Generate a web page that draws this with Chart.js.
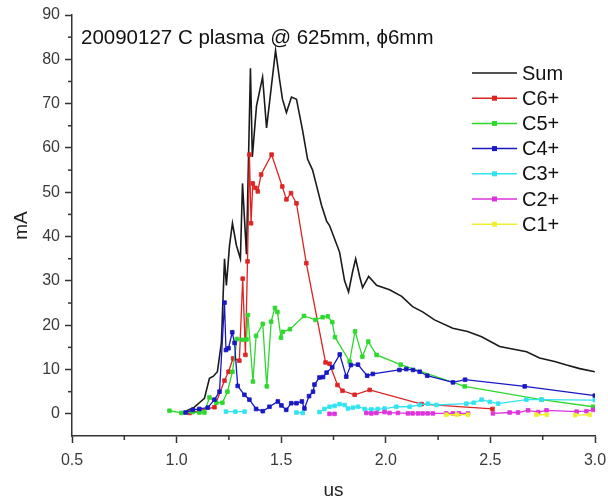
<!DOCTYPE html>
<html>
<head>
<meta charset="utf-8">
<script src="https://cdn.jsdelivr.net/npm/chart.js@4.4.0/dist/chart.umd.min.js"></script>
<style>
  html, body { margin: 0; padding: 0; background: #fff; }
  #wrap { width: 608px; height: 500px; }
</style>
</head>
<body>
<div id="wrap"><canvas id="plasma"></canvas></div>
<script>
// axis ticks
const xTicks = [0.5, 1.0, 1.5, 2.0, 2.5, 3.0];
const xMinor = [0.75, 1.25, 1.75, 2.25, 2.75];
const yTicks = [0, 10, 20, 30, 40, 50, 60, 70, 80, 90];
const yMinor = [5, 15, 25, 35, 45, 55, 65, 75, 85];

const seriesNames = ['Sum', 'C6+', 'C5+', 'C4+', 'C3+', 'C2+', 'C1+'];

// values (x in us, y in mA)
const sumX = [1.037,1.052,1.085,1.109,1.133,1.157,1.176,1.195,1.214,1.229,1.238,1.253,1.267,1.286,1.305,1.315,1.334,1.353,1.362,1.382,1.411,1.430,1.473,1.492,1.506,1.525,1.549,1.573,1.602,1.626,1.650,1.669,1.693,1.717,1.731,1.755,1.779,1.803,1.822,1.841,1.856,1.875,1.889,1.918,1.956,2.018,2.076,2.128,2.176,2.233,2.320,2.391,2.458,2.544,2.673,2.735,2.807,2.864,2.927,2.999];
const sumY = [0,0.8,1.5,2.5,3.5,8,8.5,9.5,16,35,29,38,43,38,35,52,36,78,58,69.5,76,64.5,82,75.5,71,68,71.5,71,64,57.5,55,51.5,47,43.5,42.5,39.5,36.5,30,27.5,32,35,31,28.5,31,29,28,26.5,24.2,23,21.2,19.3,18.6,17.4,15.2,14,12.6,11.8,11,10.2,9.5];

const c6X = [1.062,1.181,1.229,1.248,1.270,1.300,1.316,1.329,1.339,1.348,1.356,1.364,1.377,1.388,1.404,1.454,1.505,1.525,1.547,1.573,1.620,1.712,1.731,1.769,1.793,1.851,1.923,2.171,2.510];
const c6Y = [0.2,1.5,7.5,9.5,12.5,12,30.5,13.3,34.4,58.5,43,52,51,50.2,54,58.5,51.3,48.4,49.8,47.5,34,11.6,11.3,6.5,5.2,4.3,5.4,2.2,1.1];

const c5X = [0.966,1.023,1.076,1.109,1.133,1.157,1.190,1.219,1.243,1.267,1.289,1.315,1.334,1.341,1.365,1.380,1.412,1.431,1.452,1.470,1.482,1.499,1.508,1.542,1.609,1.664,1.698,1.723,1.744,1.757,1.827,1.853,1.888,1.916,1.956,2.071,2.377,2.744,2.991];
const c5Y = [0.7,0.2,0.4,0.3,0.3,3.7,2.5,2.5,5,9.5,16.9,16.7,16.8,22.3,7.3,17.6,20.3,6.2,20.8,23.9,23,17.2,18.5,19.1,22.1,21.2,21.8,22,20.7,17.3,11.8,18.6,12.9,16.3,13.3,11.1,6.2,3.2,1.6];

const c4X = [1.043,1.077,1.109,1.149,1.181,1.205,1.229,1.236,1.248,1.266,1.277,1.292,1.324,1.348,1.380,1.412,1.444,1.484,1.501,1.524,1.548,1.573,1.599,1.611,1.633,1.652,1.659,1.683,1.700,1.717,1.744,1.780,1.811,1.833,1.867,1.911,1.938,2.065,2.098,2.130,2.162,2.198,2.321,2.379,2.664,2.999];
const c4Y = [0.3,0.9,1.1,1.4,3.2,5,25.1,14.4,14.8,18.4,16,6.3,4.3,3.2,1.1,0.6,1.6,2.8,1.9,0.9,2.4,2.4,2.8,1.2,4,5,6.6,8.2,8.3,9.3,10.5,13.4,8.4,11,11.1,8.6,9,9.9,10.1,9.9,9.5,8.6,7.1,7.7,6.2,4.1];

const c3X = [1.236,1.281,1.325,1.45,1.573,1.603,1.64,1.683,1.707,1.731,1.755,1.779,1.803,1.819,1.843,1.867,1.899,1.931,1.962,1.994,2.050,2.114,2.162,2.201,2.242,2.385,2.420,2.458,2.497,2.537,2.672,2.744,2.999];
const c3Y = [0.5,0.5,0.5,null,0.3,0.2,null,0.4,1.1,1.6,1.8,2.2,2,1.2,1.4,1.6,1.1,1.0,1.1,1.2,1.6,1.6,2,2.3,2,2.3,2.5,3.2,2.7,2.3,3.2,3.2,3.1];

const c2X = [1.731,1.755,1.80,1.907,1.931,1.955,1.994,2.018,2.058,2.106,2.128,2.154,2.176,2.200,2.225,2.289,2.321,2.350,2.393,2.45,2.512,2.592,2.632,2.680,2.728,2.768,2.912,2.959,2.991];
const c2Y = [0,0,null,0.2,0.1,0.2,0.4,0.2,0.2,0.1,0.1,0.1,0.1,0.1,0.1,0.1,0.1,0.1,0.1,null,0.1,0.3,0.3,0.8,0.4,0.8,0.5,0.6,0.9];

const c1X = [2.289,2.340,2.393,2.55,2.720,2.770,2.85,2.905,2.975];
const c1Y = [-0.2,-0.2,-0.2,null,-0.2,-0.2,null,-0.3,-0.2];

const colors = ['#1a1a1a', '#dd2424', '#2ed82e', '#1818c4', '#33e3f0', '#dd33dd', '#eeee33'];
const FONT = '"Liberation Sans", Arial, sans-serif';

const xs = [sumX, c6X, c5X, c4X, c3X, c2X, c1X];
const ys = [sumY, c6Y, c5Y, c4Y, c3Y, c2Y, c1Y];

const datasets = seriesNames.map((name, i) => ({
  label: name,
  data: xs[i].map((x, j) => ({ x: x, y: ys[i][j] })),
  showLine: true,
  borderColor: colors[i],
  backgroundColor: colors[i],
  borderWidth: i === 0 ? 1.6 : 1.3,
  pointRadius: i === 0 ? 0 : 2.6,
  pointStyle: 'rect',
  pointBorderWidth: 0.8,
  order: 6 - i,
  spanGaps: false
}));

// title + legend drawn inside the plot
const insideText = {
  id: 'insideText',
  afterDraw(chart) {
    const { ctx, chartArea } = chart;
    ctx.save();
    ctx.fillStyle = '#111';
    ctx.font = '20.5px ' + FONT;
    ctx.textBaseline = 'alphabetic';
    ctx.textAlign = 'left';
    ctx.fillText('20090127 C plasma @ 625mm, \u03d56mm', chartArea.left + 9, chartArea.top + 29);

    ctx.font = '20px ' + FONT;
    const lx = chartArea.left + 400;
    chart.data.datasets.forEach((ds, i) => {
      const ly = chartArea.top + 58 + i * 25.2;
      ctx.strokeStyle = ds.borderColor;
      ctx.lineWidth = 1.5;
      ctx.beginPath();
      ctx.moveTo(lx, ly);
      ctx.lineTo(lx + 45, ly);
      ctx.stroke();
      if (i > 0) {
        ctx.fillStyle = ds.borderColor;
        ctx.fillRect(lx + 20, ly - 2.5, 5, 5);
      }
      ctx.fillStyle = '#111';
      ctx.textBaseline = 'middle';
      ctx.fillText(ds.label, lx + 50, ly + 1);
    });
    ctx.restore();
  }
};

// short minor ticks
const minorTicks = {
  id: 'minorTicks',
  afterDraw(chart) {
    const { ctx, scales } = chart;
    ctx.save();
    ctx.strokeStyle = '#333';
    ctx.lineWidth = 1.5;
    xMinor.forEach(v => {
      const px = scales.x.getPixelForValue(v);
      ctx.beginPath();
      ctx.moveTo(px, scales.x.top);
      ctx.lineTo(px, scales.x.top + 4);
      ctx.stroke();
    });
    yMinor.forEach(v => {
      const py = scales.y.getPixelForValue(v);
      ctx.beginPath();
      ctx.moveTo(scales.y.right, py);
      ctx.lineTo(scales.y.right - 4, py);
      ctx.stroke();
    });
    ctx.restore();
  }
};

new Chart(document.getElementById('plasma'), {
  type: 'scatter',
  data: { datasets: datasets },
  plugins: [insideText, minorTicks],
  options: {
    responsive: true,
    maintainAspectRatio: false,
    animation: false,
    layout: { padding: { top: 15, right: 13, left: 0, bottom: 0 } },
    plugins: { legend: { display: false }, tooltip: { enabled: false } },
    scales: {
      x: {
        type: 'linear',
        min: 0.5,
        max: 3.0,
        afterBuildTicks: s => { s.ticks = xTicks.map(v => ({ value: v })); },
        afterFit: s => { s.height = 64; s.paddingRight = 0; s.paddingLeft = 0; },
        grid: { display: true, drawOnChartArea: false, drawTicks: true, tickLength: 7, tickWidth: 1.5, tickColor: '#333' },
        border: { display: true, color: '#333', width: 1.5 },
        ticks: { color: '#3a3a3a', font: { family: FONT, size: 16 }, padding: 8, maxRotation: 0, autoSkip: false,
                 callback: v => v.toFixed(1) },
        title: { display: true, text: 'us', color: '#222', font: { family: FONT, size: 19, lineHeight: 1.0 }, padding: { top: 0, bottom: 0 } }
      },
      y: {
        type: 'linear',
        min: -5,
        max: 90,
        afterBuildTicks: s => { s.ticks = yTicks.map(v => ({ value: v })); },
        afterFit: s => { s.width = 72; },
        grid: { display: true, drawOnChartArea: false, drawTicks: true, tickLength: 7, tickWidth: 1.5, tickColor: '#333' },
        border: { display: true, color: '#333', width: 1.5 },
        ticks: { color: '#3a3a3a', font: { family: FONT, size: 16 }, padding: 5, autoSkip: false },
        title: { display: true, text: 'mA', color: '#222', font: { family: FONT, size: 19 }, padding: { top: 10, bottom: 0 } }
      }
    }
  }
});
</script>
</body>
</html>
